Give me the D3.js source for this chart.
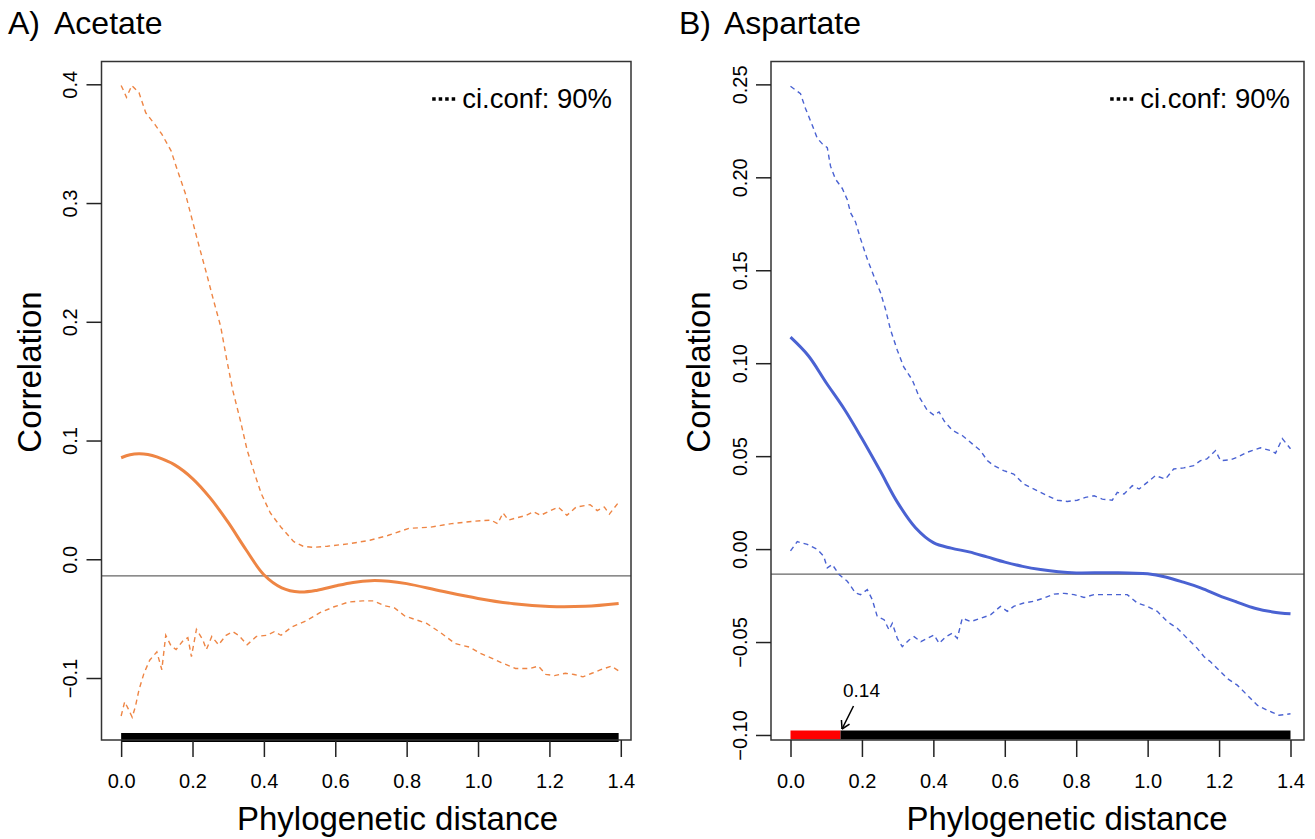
<!DOCTYPE html>
<html><head><meta charset="utf-8">
<script src="https://cdn.jsdelivr.net/npm/d3@7"></script>
<style>body{margin:0;background:#fff}svg text{font-family:"Liberation Sans",Arial,Helvetica,sans-serif;fill:#000}</style>
</head><body><svg id="c" width="1315" height="839"></svg>
<script>
// ---------- DATA ----------
const xTicks = [0, 0.2, 0.4, 0.6, 0.8, 1.0, 1.2, 1.4];
const acetateYTicks = [-0.1, 0, 0.1, 0.2, 0.3, 0.4];
const aspartateYTicks = [-0.10, -0.05, 0, 0.05, 0.10, 0.15, 0.20, 0.25];
const panelLetters = ["A)", "B)"];
const panelNames = ["Acetate", "Aspartate"];
const xLabel = "Phylogenetic distance";
const yLabel = "Correlation";
const legendLabel = "ci.conf: 90%";
const refLineValues = [-0.014, -0.0135];
const acetateMaxDist = 1.394;
const aspartateMaxDist = 1.4;
const aspartateSignifEnd = 0.14;
const annotationLabel = "0.14";

// [distance, correlation]
const acetateMean = [[0,0.0855],[0.025,0.088],[0.05,0.0888],[0.075,0.0882],[0.1,0.0862],[0.15,0.0795],[0.2,0.068],[0.25,0.0515],[0.3,0.031],[0.35,0.008],[0.4,-0.013],[0.45,-0.024],[0.5,-0.0275],[0.55,-0.026],[0.6,-0.0225],[0.65,-0.0195],[0.7,-0.018],[0.75,-0.0185],[0.8,-0.0205],[0.9,-0.027],[1.0,-0.033],[1.1,-0.0375],[1.2,-0.0398],[1.3,-0.0396],[1.394,-0.0372]];
const acetateUpper = [[0,0.399],[0.008,0.394],[0.015,0.389],[0.030,0.399],[0.050,0.393],[0.069,0.376],[0.095,0.366],[0.114,0.358],[0.140,0.344],[0.154,0.331],[0.180,0.308],[0.199,0.286],[0.219,0.263],[0.239,0.241],[0.259,0.218],[0.279,0.196],[0.296,0.168],[0.313,0.142],[0.334,0.117],[0.353,0.092],[0.374,0.072],[0.393,0.055],[0.418,0.039],[0.448,0.027],[0.483,0.015],[0.510,0.011],[0.538,0.010],[0.578,0.011],[0.637,0.013],[0.697,0.016],[0.747,0.020],[0.806,0.026],[0.866,0.027],[0.926,0.030],[0.986,0.032],[1.036,0.033],[1.055,0.030],[1.070,0.039],[1.085,0.033],[1.135,0.037],[1.155,0.040],[1.175,0.037],[1.225,0.044],[1.249,0.037],[1.275,0.044],[1.314,0.046],[1.334,0.041],[1.354,0.044],[1.368,0.038],[1.394,0.048]];
const acetateLower = [[0,-0.132],[0.010,-0.12],[0.020,-0.126],[0.031,-0.133],[0.040,-0.124],[0.050,-0.11],[0.064,-0.096],[0.080,-0.085],[0.100,-0.078],[0.114,-0.093],[0.125,-0.064],[0.140,-0.073],[0.154,-0.076],[0.175,-0.068],[0.187,-0.066],[0.197,-0.082],[0.211,-0.059],[0.229,-0.068],[0.239,-0.076],[0.254,-0.065],[0.273,-0.072],[0.294,-0.064],[0.313,-0.061],[0.329,-0.064],[0.353,-0.072],[0.379,-0.065],[0.408,-0.064],[0.429,-0.061],[0.448,-0.064],[0.478,-0.057],[0.517,-0.052],[0.557,-0.045],[0.597,-0.040],[0.637,-0.036],[0.677,-0.035],[0.707,-0.035],[0.737,-0.039],[0.766,-0.041],[0.796,-0.048],[0.827,-0.051],[0.856,-0.054],[0.896,-0.062],[0.936,-0.071],[0.976,-0.074],[1.005,-0.079],[1.036,-0.083],[1.065,-0.087],[1.105,-0.092],[1.145,-0.092],[1.169,-0.090],[1.190,-0.097],[1.214,-0.098],[1.245,-0.096],[1.269,-0.097],[1.294,-0.099],[1.319,-0.096],[1.344,-0.093],[1.374,-0.090],[1.394,-0.094]];

const aspartateMean = [[0,0.114],[0.05,0.104],[0.1,0.0895],[0.15,0.0755],[0.2,0.0595],[0.25,0.0425],[0.3,0.025],[0.35,0.0115],[0.4,0.0035],[0.45,0.0005],[0.5,-0.0015],[0.55,-0.0042],[0.6,-0.007],[0.65,-0.0093],[0.7,-0.011],[0.75,-0.0122],[0.8,-0.0128],[0.9,-0.0127],[1.0,-0.0133],[1.05,-0.015],[1.1,-0.0178],[1.15,-0.021],[1.2,-0.025],[1.25,-0.0285],[1.3,-0.0318],[1.35,-0.0338],[1.4,-0.0348]];
const aspartateUpper = [[0,0.249],[0.028,0.245],[0.042,0.237],[0.061,0.228],[0.075,0.221],[0.089,0.218],[0.103,0.216],[0.112,0.206],[0.126,0.199],[0.145,0.194],[0.159,0.188],[0.168,0.181],[0.182,0.176],[0.196,0.167],[0.215,0.156],[0.233,0.147],[0.252,0.138],[0.266,0.129],[0.28,0.118],[0.299,0.107],[0.317,0.098],[0.341,0.091],[0.36,0.082],[0.383,0.0747],[0.402,0.072],[0.416,0.0738],[0.43,0.069],[0.453,0.0639],[0.481,0.0611],[0.509,0.0566],[0.532,0.053],[0.551,0.0476],[0.569,0.0449],[0.597,0.0422],[0.625,0.0404],[0.653,0.035],[0.691,0.0314],[0.719,0.0287],[0.747,0.0263],[0.775,0.0256],[0.803,0.0263],[0.826,0.0278],[0.85,0.0287],[0.873,0.0269],[0.901,0.0263],[0.915,0.0305],[0.934,0.0296],[0.957,0.0341],[0.976,0.0323],[0.999,0.0359],[1.022,0.0395],[1.05,0.0377],[1.073,0.0431],[1.101,0.0437],[1.129,0.0449],[1.148,0.0476],[1.166,0.0485],[1.19,0.053],[1.204,0.0476],[1.232,0.048],[1.251,0.0494],[1.279,0.0521],[1.316,0.0545],[1.344,0.053],[1.358,0.0516],[1.377,0.0594],[1.4,0.054]];
const aspartateLower = [[0,-0.001],[0.019,0.004],[0.047,0.0025],[0.075,-0.0002],[0.093,-0.0038],[0.103,-0.0101],[0.117,-0.0083],[0.136,-0.0137],[0.159,-0.0173],[0.182,-0.0236],[0.196,-0.0245],[0.215,-0.0218],[0.229,-0.0272],[0.243,-0.0363],[0.262,-0.038],[0.276,-0.0435],[0.285,-0.0399],[0.299,-0.048],[0.313,-0.0525],[0.332,-0.0489],[0.346,-0.0471],[0.365,-0.0498],[0.383,-0.048],[0.402,-0.0462],[0.416,-0.0507],[0.435,-0.0471],[0.453,-0.0453],[0.467,-0.048],[0.481,-0.0372],[0.505,-0.039],[0.532,-0.0372],[0.56,-0.0354],[0.588,-0.0308],[0.607,-0.0335],[0.625,-0.0308],[0.653,-0.029],[0.681,-0.0281],[0.71,-0.0263],[0.738,-0.0242],[0.766,-0.0238],[0.794,-0.0245],[0.822,-0.026],[0.85,-0.0245],[0.906,-0.0245],[0.943,-0.0245],[0.971,-0.029],[0.999,-0.0308],[1.027,-0.0335],[1.055,-0.039],[1.083,-0.0426],[1.111,-0.048],[1.139,-0.0534],[1.158,-0.0579],[1.176,-0.0606],[1.195,-0.0642],[1.223,-0.0696],[1.251,-0.0732],[1.279,-0.0786],[1.307,-0.084],[1.335,-0.0867],[1.368,-0.0894],[1.4,-0.0886]];

// ---------- LAYOUT / STYLE ----------
const svg = d3.select("#c");
const panels = [
  { letter: panelLetters[0], name: panelNames[0], left: 101.5, right: 631, top: 61.5, bottom: 740,
    xDomain: [-0.055, 1.4286], yDomain: [-0.1522, 0.4192], yTicks: acetateYTicks, yFmt: d3.format(".1f"),
    mean: acetateMean, upper: acetateUpper, lower: acetateLower, color: "#EE8544",
    ref: refLineValues[0], barY: -0.15, bars: [[0, acetateMaxDist, "#000"]],
    titleX: 8, nameX: 54, legendEnd: 612, annotate: false },
  { letter: panelLetters[1], name: panelNames[1], left: 771, right: 1304, top: 61.5, bottom: 740,
    xDomain: [-0.0546, 1.4378], yDomain: [-0.1027, 0.2623], yTicks: aspartateYTicks, yFmt: d3.format(".2f"),
    mean: aspartateMean, upper: aspartateUpper, lower: aspartateLower, color: "#4A62D2",
    ref: refLineValues[1], barY: -0.10, bars: [[0, aspartateSignifEnd, "#FF0000"], [aspartateSignifEnd, aspartateMaxDist, "#000"]],
    titleX: 679, nameX: 724, legendEnd: 1290, annotate: true }
];

panels.forEach(p => {
  const g = svg.append("g");
  const x = d3.scaleLinear().domain(p.xDomain).range([p.left, p.right]);
  const y = d3.scaleLinear().domain(p.yDomain).range([p.bottom, p.top]);

  // reference line
  g.append("line").attr("x1", p.left).attr("x2", p.right)
    .attr("y1", y(p.ref)).attr("y2", y(p.ref))
    .attr("stroke", "#666").attr("stroke-width", 1.3);

  const jag = d3.line().x(d => x(d[0])).y(d => y(d[1]));
  const smooth = d3.line().x(d => x(d[0])).y(d => y(d[1])).curve(d3.curveCatmullRom);

  [p.upper, p.lower].forEach(s => {
    g.append("path").datum(s).attr("d", jag).attr("fill", "none")
      .attr("stroke", p.color).attr("stroke-width", 1.4).attr("stroke-dasharray", "5,4");
  });
  g.append("path").datum(p.mean).attr("d", smooth).attr("fill", "none")
    .attr("stroke", p.color).attr("stroke-width", 3);

  // significance bars
  p.bars.forEach(b => {
    g.append("line").attr("x1", x(b[0])).attr("x2", x(b[1]))
      .attr("y1", y(p.barY)).attr("y2", y(p.barY))
      .attr("stroke", b[2]).attr("stroke-width", 9);
  });

  // box
  g.append("rect").attr("x", p.left).attr("y", p.top)
    .attr("width", p.right - p.left).attr("height", p.bottom - p.top)
    .attr("fill", "none").attr("stroke", "#333").attr("stroke-width", 1.5);

  // x axis
  const ax = g.append("g").attr("transform", `translate(0,${p.bottom})`)
    .call(d3.axisBottom(x).tickValues(xTicks).tickSize(17).tickPadding(17).tickFormat(d3.format(".1f")));
  ax.select(".domain").remove();
  ax.selectAll(".tick line").attr("stroke", "#222").attr("stroke-width", 1.5);
  ax.selectAll(".tick text").attr("font-size", 20).attr("fill", "#000")
    .style("font-family", '"Liberation Sans", Arial, sans-serif');

  // y axis
  const ay = g.append("g").attr("transform", `translate(${p.left},0)`)
    .call(d3.axisLeft(y).tickValues(p.yTicks).tickSize(15).tickFormat(p.yFmt));
  ay.select(".domain").remove();
  ay.selectAll(".tick line").attr("stroke", "#222").attr("stroke-width", 1.5);
  ay.selectAll(".tick text").attr("font-size", 20).attr("fill", "#000")
    .style("font-family", '"Liberation Sans", Arial, sans-serif')
    .attr("transform", "rotate(-90)").attr("x", 0).attr("y", -24.5).attr("dy", 0)
    .attr("text-anchor", "middle");

  // axis titles
  g.append("text").attr("x", p.left + 296).attr("y", 830)
    .attr("text-anchor", "middle").attr("font-size", 33).text(xLabel);
  g.append("text").attr("transform", `translate(${p.left - 61},372) rotate(-90)`)
    .attr("text-anchor", "middle").attr("font-size", 33).text(yLabel);

  // panel title
  g.append("text").attr("x", p.titleX).attr("y", 34).attr("font-size", 32).text(p.letter);
  g.append("text").attr("x", p.nameX).attr("y", 34).attr("font-size", 32).text(p.name);

  // legend
  const lt = g.append("text").attr("x", p.legendEnd).attr("y", 108)
    .attr("text-anchor", "end").attr("font-size", 27.5).text(legendLabel);
  const tw = lt.node().getComputedTextLength();
  const lx1 = p.legendEnd - tw - 6;
  g.append("line").attr("x1", lx1 - 24).attr("x2", lx1).attr("y1", 99).attr("y2", 99)
    .attr("stroke", "#000").attr("stroke-width", 3.5).attr("stroke-dasharray", "3.5,3");

  // annotation
  if (p.annotate) {
    const ax0 = x(aspartateSignifEnd);
    g.append("text").attr("x", ax0 + 21).attr("y", 697).attr("text-anchor", "middle")
      .attr("font-size", 19).text(annotationLabel);
    const x1 = ax0 + 13, y1 = 706, x2 = ax0 + 1.5, y2 = 729;
    g.append("line").attr("x1", x1).attr("y1", y1).attr("x2", x2).attr("y2", y2)
      .attr("stroke", "#000").attr("stroke-width", 1.5);
    const ang = Math.atan2(y2 - y1, x2 - x1);
    const hl = 9;
    [Math.PI / 6, -Math.PI / 6].forEach(a => {
      g.append("line").attr("x1", x2).attr("y1", y2)
        .attr("x2", x2 - hl * Math.cos(ang - a)).attr("y2", y2 - hl * Math.sin(ang - a))
        .attr("stroke", "#000").attr("stroke-width", 1.5);
    });
  }
});
</script>
</body></html>
